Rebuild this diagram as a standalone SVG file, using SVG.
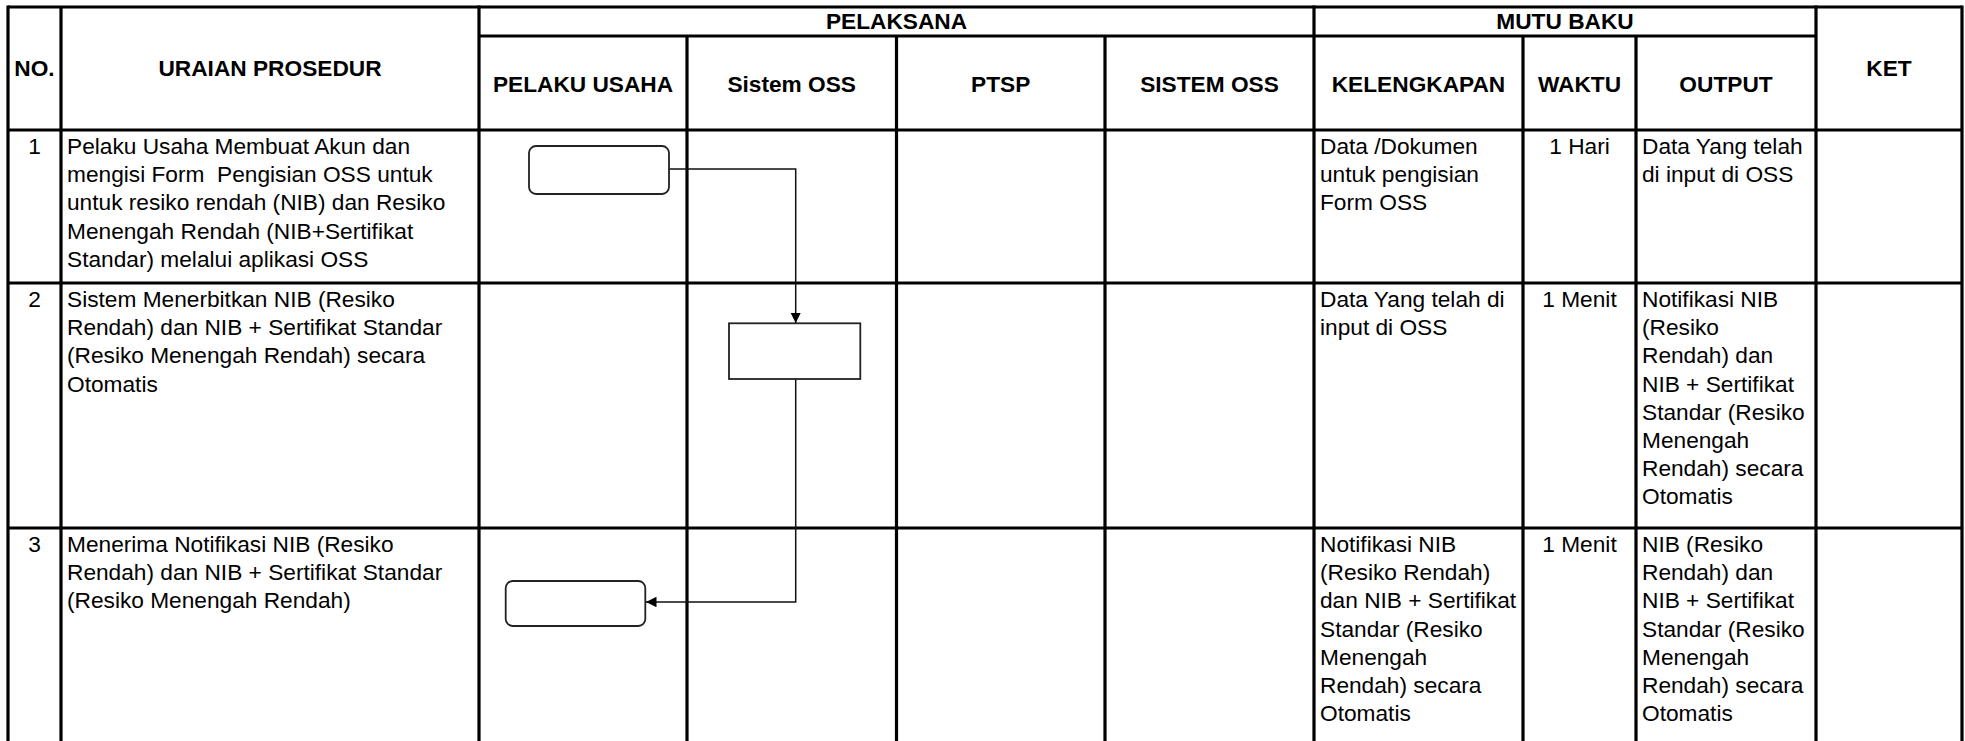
<svg xmlns="http://www.w3.org/2000/svg" width="1965" height="741" viewBox="0 0 1965 741">
<style>
.g{stroke:#000;stroke-width:3.2;fill:none}
.h{font-family:"Liberation Sans",Arial,sans-serif;font-size:22.7px;font-weight:bold;fill:#000;text-anchor:middle}
.t{font-family:"Liberation Sans",Arial,sans-serif;font-size:22.7px;fill:#000;white-space:pre}
.c{text-anchor:middle}
.n{fill:#fff;stroke:#222;stroke-width:1.8}
.k{fill:none;stroke:#111;stroke-width:1.5}
</style>
<defs>
<marker id="ah" viewBox="0 0 10 10" refX="10" refY="5" markerWidth="10.5" markerHeight="10.5" markerUnits="userSpaceOnUse" orient="auto">
<path d="M0,0 L10,5 L0,10 z" fill="#000"/>
</marker>
</defs>
<rect width="1965" height="741" fill="#fff"/>
<g id="grid">
<path class="g" d="M8,7 H1962 M479,36 H1816 M8,130 H1962 M8,283 H1962 M8,528 H1962"/>
<path class="g" d="M8,5.4 V741 M61,7 V741 M479,5.4 V741 M687,36 V741 M896.5,36 V741 M1105,36 V741 M1314,5.4 V741 M1523,36 V741 M1636,36 V741 M1816,5.4 V741 M1962,5.4 V741"/>
</g>
<g id="header">
<text class="h" x="34.5" y="76">NO.</text>
<text class="h" x="270" y="76">URAIAN PROSEDUR</text>
<text class="h" x="896.5" y="29">PELAKSANA</text>
<text class="h" x="1565" y="29">MUTU BAKU</text>
<text class="h" x="1889" y="76">KET</text>
<text class="h" x="583" y="92">PELAKU USAHA</text>
<text class="h" x="791.7" y="92">Sistem OSS</text>
<text class="h" x="1000.7" y="92">PTSP</text>
<text class="h" x="1209.5" y="92">SISTEM OSS</text>
<text class="h" x="1418.5" y="92">KELENGKAPAN</text>
<text class="h" x="1579.5" y="92">WAKTU</text>
<text class="h" x="1726" y="92">OUTPUT</text>
</g>
<g id="row1">
<text class="t c" x="34.5" y="154">1</text>
<text class="t" x="67" y="154">Pelaku Usaha Membuat Akun dan<tspan x="67" dy="28.2">mengisi Form  Pengisian OSS untuk</tspan><tspan x="67" dy="28.2">untuk resiko rendah (NIB) dan Resiko</tspan><tspan x="67" dy="28.2">Menengah Rendah (NIB+Sertifikat</tspan><tspan x="67" dy="28.2">Standar) melalui aplikasi OSS</tspan></text>
<text class="t" x="1320" y="154">Data /Dokumen<tspan x="1320" dy="28.2">untuk pengisian</tspan><tspan x="1320" dy="28.2">Form OSS</tspan></text>
<text class="t c" x="1579.5" y="154">1 Hari</text>
<text class="t" x="1642" y="154">Data Yang telah<tspan x="1642" dy="28.2">di input di OSS</tspan></text>
</g>
<g id="row2">
<text class="t c" x="34.5" y="307">2</text>
<text class="t" x="67" y="307">Sistem Menerbitkan NIB (Resiko<tspan x="67" dy="28.2">Rendah) dan NIB + Sertifikat Standar</tspan><tspan x="67" dy="28.2">(Resiko Menengah Rendah) secara</tspan><tspan x="67" dy="28.2">Otomatis</tspan></text>
<text class="t" x="1320" y="307">Data Yang telah di<tspan x="1320" dy="28.2">input di OSS</tspan></text>
<text class="t c" x="1579.5" y="307">1 Menit</text>
<text class="t" x="1642" y="307">Notifikasi NIB<tspan x="1642" dy="28.2">(Resiko</tspan><tspan x="1642" dy="28.2">Rendah) dan</tspan><tspan x="1642" dy="28.2">NIB + Sertifikat</tspan><tspan x="1642" dy="28.2">Standar (Resiko</tspan><tspan x="1642" dy="28.2">Menengah</tspan><tspan x="1642" dy="28.2">Rendah) secara</tspan><tspan x="1642" dy="28.2">Otomatis</tspan></text>
</g>
<g id="row3">
<text class="t c" x="34.5" y="552">3</text>
<text class="t" x="67" y="552">Menerima Notifikasi NIB (Resiko<tspan x="67" dy="28.2">Rendah) dan NIB + Sertifikat Standar</tspan><tspan x="67" dy="28.2">(Resiko Menengah Rendah)</tspan></text>
<text class="t" x="1320" y="552">Notifikasi NIB<tspan x="1320" dy="28.2">(Resiko Rendah)</tspan><tspan x="1320" dy="28.2">dan NIB + Sertifikat</tspan><tspan x="1320" dy="28.2">Standar (Resiko</tspan><tspan x="1320" dy="28.2">Menengah</tspan><tspan x="1320" dy="28.2">Rendah) secara</tspan><tspan x="1320" dy="28.2">Otomatis</tspan></text>
<text class="t c" x="1579.5" y="552">1 Menit</text>
<text class="t" x="1642" y="552">NIB (Resiko<tspan x="1642" dy="28.2">Rendah) dan</tspan><tspan x="1642" dy="28.2">NIB + Sertifikat</tspan><tspan x="1642" dy="28.2">Standar (Resiko</tspan><tspan x="1642" dy="28.2">Menengah</tspan><tspan x="1642" dy="28.2">Rendah) secara</tspan><tspan x="1642" dy="28.2">Otomatis</tspan></text>
</g>
<g id="connectors">
<path class="k" d="M669,169 H795.7 V323" marker-end="url(#ah)"/>
<path class="k" d="M795.7,379 V602 H646" marker-end="url(#ah)"/>
</g>
<g id="node-start">
<rect class="n" x="529" y="146" width="140" height="48" rx="7"/>
</g>
<g id="node-process">
<rect class="n" x="729" y="323.3" width="131.3" height="55.7"/>
</g>
<g id="node-end">
<rect class="n" x="505.7" y="581" width="139.6" height="45" rx="7"/>
</g>
</svg>
